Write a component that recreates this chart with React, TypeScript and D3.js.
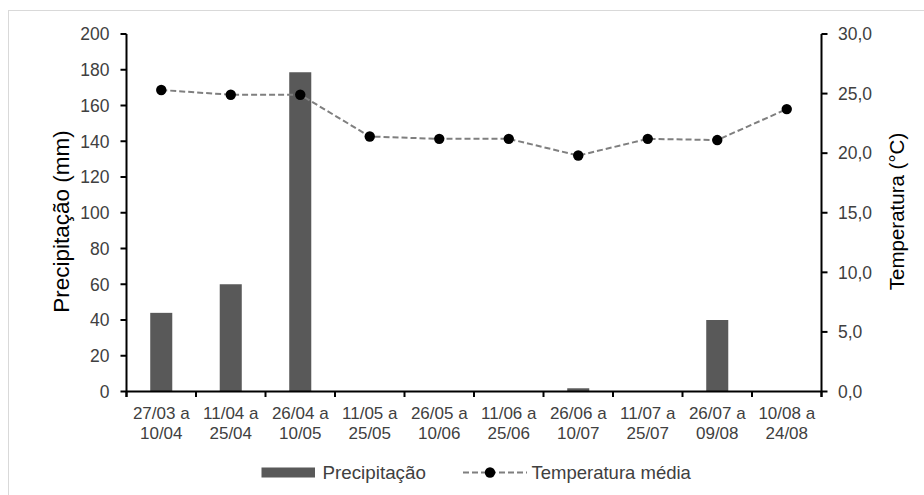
import React from "react";
import * as d3 from "d3";

// Fortnightly periods (two-line labels)
const periodStart = ["27/03 a", "11/04 a", "26/04 a", "11/05 a", "26/05 a", "11/06 a", "26/06 a", "11/07 a", "26/07 a", "10/08 a"];
const periodEnd = ["10/04", "25/04", "10/05", "25/05", "10/06", "25/06", "10/07", "25/07", "09/08", "24/08"];

// Rainfall per period (mm)
const precipitation = [44, 60, 178.6, 0, 0, 0, 1.8, 0, 40, 0];
// Mean air temperature per period (°C)
const temperature = [25.3, 24.9, 24.9, 21.4, 21.2, 21.2, 19.8, 21.2, 21.1, 23.7];

const precipTicks = [0, 20, 40, 60, 80, 100, 120, 140, 160, 180, 200];
const tempTicks = [0, 5, 10, 15, 20, 25, 30];

const W = 924;
const H = 495;
const margin = { left: 126.5, right: 821.5, top: 34, bottom: 391.5 };
const FONT = "'Liberation Sans', Arial, sans-serif";
const TEXT = "#404040";

export default function App() {
  const keys = periodEnd.map((_, i) => String(i));
  const x = d3.scaleBand<string>().domain(keys).range([margin.left, margin.right]).paddingInner(0).paddingOuter(0);
  const yP = d3.scaleLinear().domain([0, 200]).range([margin.bottom, margin.top]);
  const yT = d3.scaleLinear().domain([0, 30]).range([margin.bottom, margin.top]);
  const bw = x.bandwidth();
  const barW = bw * 0.317;

  const line = d3
    .line<number>()
    .x((_, i) => (x(keys[i]) as number) + bw / 2)
    .y((d) => yT(d));

  const fmtT = (v: number) => v.toFixed(1).replace(".", ",");

  const boundaries = d3.range(0, keys.length + 1).map((i) => margin.left + i * bw);

  return (
    <svg
      width={W}
      height={H}
      style={{ position: "absolute", left: 0, top: 0, background: "#fff" }}
      fontFamily={FONT}
    >
      <rect x={8.5} y={10.5} width={W} height={H} fill="#fff" stroke="#d9d9d9" strokeWidth={1} />

      {/* bars */}
      {precipitation.map((v, i) => (
        <rect
          key={"b" + i}
          x={(x(keys[i]) as number) + bw / 2 - barW / 2}
          y={yP(v)}
          width={barW}
          height={yP(0) - yP(v)}
          fill="#595959"
        />
      ))}

      {/* left axis */}
      <line x1={margin.left} x2={margin.left} y1={margin.top} y2={margin.bottom + 5.5} stroke="#000" strokeWidth={2} />
      {precipTicks.map((t) => (
        <g key={"pl" + t}>
          <line x1={margin.left - 6} x2={margin.left} y1={yP(t)} y2={yP(t)} stroke="#000" strokeWidth={2} />
          <text x={109.5} y={yP(t)} dy="0.36em" textAnchor="end" fontSize={17.5} fill={TEXT}>
            {t}
          </text>
        </g>
      ))}

      {/* right axis */}
      <line x1={margin.right} x2={margin.right} y1={margin.top} y2={margin.bottom + 5.5} stroke="#000" strokeWidth={2} />
      {tempTicks.map((t) => (
        <g key={"tr" + t}>
          <line x1={margin.right} x2={margin.right + 6} y1={yT(t)} y2={yT(t)} stroke="#000" strokeWidth={2} />
          <text x={838} y={yT(t)} dy="0.36em" textAnchor="start" fontSize={17.5} fill={TEXT}>
            {fmtT(t)}
          </text>
        </g>
      ))}

      {/* x axis */}
      <line x1={margin.left} x2={margin.right} y1={margin.bottom} y2={margin.bottom} stroke="#000" strokeWidth={2} />
      {boundaries.map((bx, i) => (
        <line key={"xt" + i} x1={bx} x2={bx} y1={margin.bottom} y2={margin.bottom + 5.5} stroke="#000" strokeWidth={2} />
      ))}
      {keys.map((k, i) => {
        const cx = (x(k) as number) + bw / 2;
        return (
          <text key={"xl" + k} x={cx} textAnchor="middle" fontSize={17} fill={TEXT}>
            <tspan x={cx} y={419}>{periodStart[i]}</tspan>
            <tspan x={cx} y={438.5}>{periodEnd[i]}</tspan>
          </text>
        );
      })}

      {/* temperature line */}
      <path d={line(temperature) || ""} fill="none" stroke="#7f7f7f" strokeWidth={2} strokeDasharray="6,3" />
      {temperature.map((v, i) => (
        <circle key={"c" + i} cx={(x(keys[i]) as number) + bw / 2} cy={yT(v)} r={5.2} fill="#000" />
      ))}

      {/* axis titles */}
      <text
        transform={`translate(68.5,221.5) rotate(-90)`}
        textAnchor="middle"
        fontSize={22.5}
        fill="#000"
      >
        Precipitação (mm)
      </text>
      <text
        transform={`translate(903.5,211.5) rotate(-90)`}
        textAnchor="middle"
        fontSize={20.5}
        fill="#000"
      >
        Temperatura (°C)
      </text>

      {/* legend */}
      <rect x={261.5} y={467.5} width={53.5} height={10} fill="#595959" />
      <text x={322.5} y={478.5} fontSize={18.8} fill={TEXT}>
        Precipitação
      </text>
      <line x1={463} x2={527} y1={472.5} y2={472.5} stroke="#7f7f7f" strokeWidth={2} strokeDasharray="6,3" />
      <circle cx={490} cy={472.5} r={5.2} fill="#000" />
      <text x={531.5} y={478.5} fontSize={18.5} fill={TEXT}>
        Temperatura média
      </text>
    </svg>
  );
}
